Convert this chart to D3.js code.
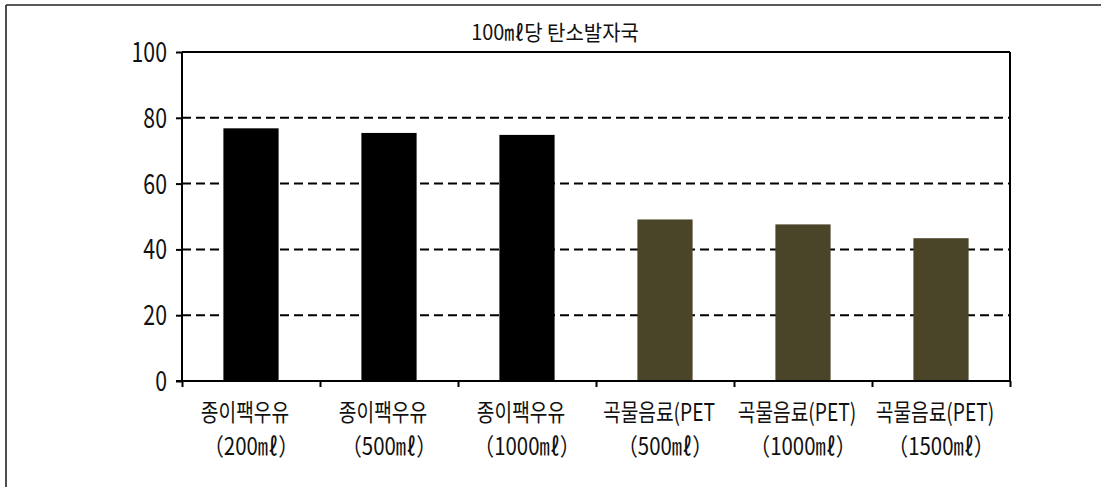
<!DOCTYPE html>
<html><head><meta charset="utf-8">
<script src="https://cdn.jsdelivr.net/npm/d3@7/dist/d3.min.js"></script>
<style>body{margin:0;background:#fff}svg{display:block}</style>
</head><body>
<svg id="c" width="1101" height="487"></svg>
<script>
const title = "100㎖당 탄소발자국";
const labelLine1 = ["종이팩우유","종이팩우유","종이팩우유","곡물음료(PET","곡물음료(PET)","곡물음료(PET)"];
const labelLine2 = ["（200㎖）","（500㎖）","（1000㎖）","（500㎖）","（1000㎖）","（1500㎖）"];
const values = [76.8, 75.4, 74.8, 49.1, 47.6, 43.4];
const groups = ["paper","paper","paper","pet","pet","pet"];
const yTicks = [0,20,40,60,80,100];
const colors = {paper:"#000000", pet:"#4a4429"};

const svg = d3.select("#c");
const L=182, R=1010, T=52, B=381;
const font = "'Noto Sans CJK KR','Noto Sans',sans-serif";

// outer frame (top and left only)
svg.append("line").attr("x1",6).attr("x2",1101).attr("y1",5).attr("y2",5).attr("stroke","#222").attr("stroke-width",1.6);
svg.append("line").attr("x1",6).attr("x2",6).attr("y1",5).attr("y2",487).attr("stroke","#222").attr("stroke-width",1.6);

const idx = d3.range(values.length);
const x = d3.scaleBand().domain(idx).range([L,R]).paddingInner(0.6).paddingOuter(0.3);
const xb = d3.scaleLinear().domain([0,values.length]).range([L,R]);
const y = d3.scaleLinear().domain([0,100]).range([B,T]);

// gridlines
svg.append("g").selectAll("line").data(yTicks.filter(t=>t>0&&t<100)).join("line")
  .attr("x1",L).attr("x2",R).attr("y1",d=>y(d)).attr("y2",d=>y(d))
  .attr("stroke","#000").attr("stroke-width",2).attr("stroke-dasharray","9,5");

// bars
svg.append("g").selectAll("rect").data(idx).join("rect")
  .attr("x",i=>x(i)).attr("width",x.bandwidth())
  .attr("y",i=>y(values[i])).attr("height",i=>B-y(values[i]))
  .attr("fill",i=>colors[groups[i]]);

// top & right frame
svg.append("line").attr("x1",L).attr("x2",R).attr("y1",y(100)).attr("y2",y(100)).attr("stroke","#000").attr("stroke-width",2);
svg.append("line").attr("x1",R).attr("x2",R).attr("y1",y(100)).attr("y2",B).attr("stroke","#000").attr("stroke-width",2);

// y axis
const ya = svg.append("g").attr("transform",`translate(${L},0)`)
  .call(d3.axisLeft(y).tickValues(yTicks).tickSize(6).tickFormat(""));
ya.select(".domain").attr("stroke-width",2).attr("d",`M0,${y(100)}V${B}`);
ya.selectAll(".tick line").attr("stroke-width",2);
svg.append("g").selectAll("text").data(yTicks).join("text")
  .attr("transform",d=>`translate(167,${y(d)+10}) scale(0.76,1)`)
  .attr("text-anchor","end").attr("font-family",font).attr("font-size",28).attr("fill","#111")
  .text(d=>d);

// x axis
const xa = svg.append("g").attr("transform",`translate(0,${B})`)
  .call(d3.axisBottom(xb).tickValues(d3.range(values.length+1)).tickSize(6).tickFormat(""));
xa.select(".domain").attr("stroke-width",2).attr("d",`M${L-6},0H${R}`);
xa.selectAll(".tick line").attr("stroke-width",2);

const cx = i => x(i)+x.bandwidth()/2;
svg.append("g").selectAll("text").data(idx).join("text")
  .attr("transform",i=>`translate(${cx(i)-6},421) scale(0.8,1)`)
  .attr("text-anchor","middle").attr("font-family",font).attr("font-size",24).attr("fill","#111")
  .text(i=>labelLine1[i]);
svg.append("g").selectAll("text").data(idx).join("text")
  .attr("transform",i=>`translate(${cx(i)},455) scale(0.85,1)`)
  .attr("text-anchor","middle").attr("font-family",font).attr("font-size",24).attr("fill","#111")
  .text(i=>labelLine2[i]);

// title
svg.append("text").attr("transform","translate(555,40) scale(0.95,1)")
  .attr("text-anchor","middle").attr("font-family",font).attr("font-size",21).attr("fill","#111")
  .text(title);
</script>
</body></html>
